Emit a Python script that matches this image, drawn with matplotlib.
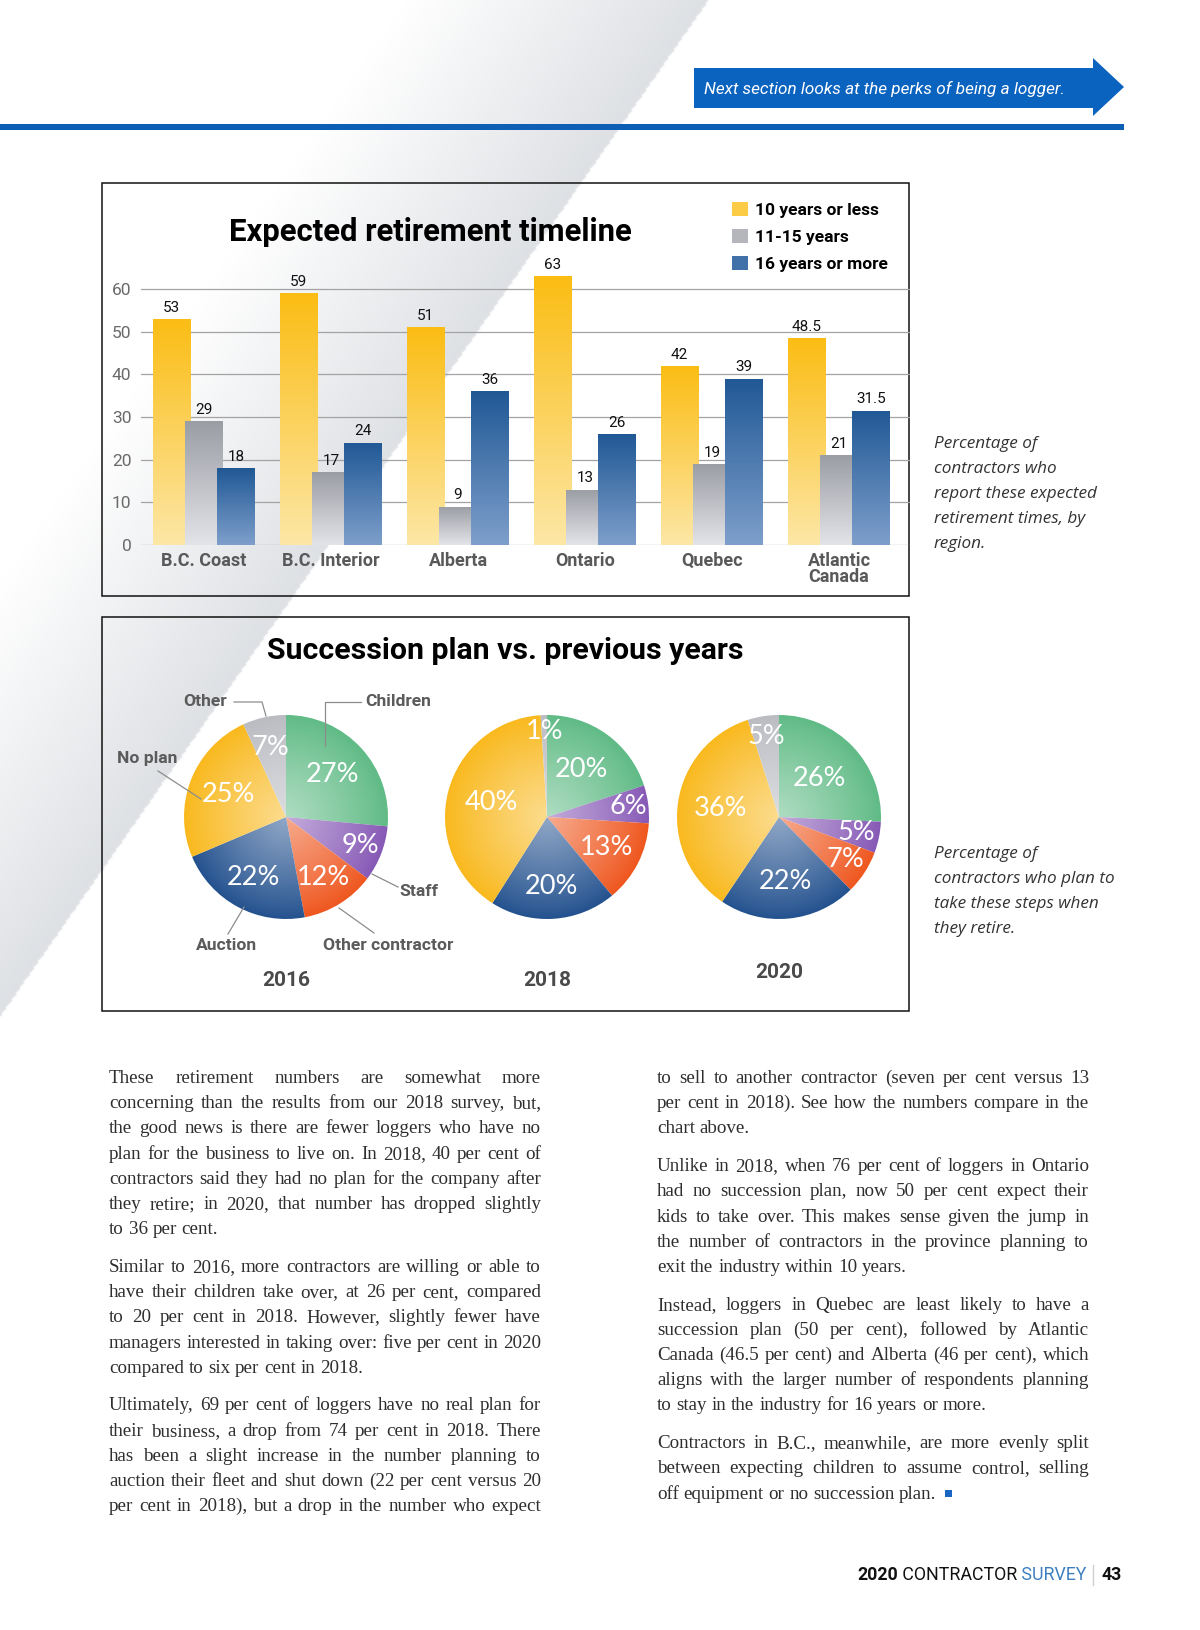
"""
Survey page: retirement-timeline bars, succession-plan pies and the two
justified text columns underneath. Saved as out.png at 1200x1630.
"""
import numpy as np
import matplotlib
matplotlib.use("Agg")
import matplotlib.pyplot as plt
import matplotlib.patches as mpatches
from matplotlib import font_manager as fm
from matplotlib.colors import LinearSegmentedColormap

W, H, DPI = 1200, 1630, 100

# ---- data ---------------------------------------------------------------
regions = ["B.C. Coast", "B.C. Interior", "Alberta", "Ontario", "Quebec", "Atlantic\nCanada"]
ten_or_less = [53, 59, 51, 63, 42, 48.5]
eleven_to_fifteen = [29, 17, 9, 13, 19, 21]
sixteen_or_more = [18, 24, 36, 26, 39, 31.5]
series_labels = ["10 years or less", "11-15 years", "16 years or more"]

plan_labels = ["Children", "Staff", "Other contractor", "Auction", "No plan", "Other"]
plan_2016 = [27, 9, 12, 22, 25, 7]
plan_2018 = [20, 6, 13, 20, 40, 1]
plan_2020 = [26, 5, 7, 22, 36, 5]
years = ["2016", "2018", "2020"]

left_col = [
    (["These retirement numbers are somewhat more",
      "concerning than the results from our 2018 survey, but,",
      "the good news is there are fewer loggers who have no",
      "plan for the business to live on. In 2018, 40 per cent of",
      "contractors said they had no plan for the company after",
      "they retire; in 2020, that number has dropped slightly",
      "to 36 per cent."], False),
    (["Similar to 2016, more contractors are willing or able to",
      "have their children take over, at 26 per cent, compared",
      "to 20 per cent in 2018. However, slightly fewer have",
      "managers interested in taking over: five per cent in 2020",
      "compared to six per cent in 2018."], False),
    (["Ultimately, 69 per cent of loggers have no real plan for",
      "their business, a drop from 74 per cent in 2018. There",
      "has been a slight increase in the number planning to",
      "auction their fleet and shut down (22 per cent versus 20",
      "per cent in 2018), but a drop in the number who expect"], True),
]
right_col = [
    (["to sell to another contractor (seven per cent versus 13",
      "per cent in 2018). See how the numbers compare in the",
      "chart above."], False),
    (["Unlike in 2018, when 76 per cent of loggers in Ontario",
      "had no succession plan, now 50 per cent expect their",
      "kids to take over. This makes sense given the jump in",
      "the number of contractors in the province planning to",
      "exit the industry within 10 years."], False),
    (["Instead, loggers in Quebec are least likely to have a",
      "succession plan (50 per cent), followed by Atlantic",
      "Canada (46.5 per cent) and Alberta (46 per cent), which",
      "aligns with the larger number of respondents planning",
      "to stay in the industry for 16 years or more."], False),
    (["Contractors in B.C., meanwhile, are more evenly split",
      "between expecting children to assume control, selling",
      "off equipment or no succession plan."], False),
]


def pick(*names):
    for n in names:
        try:
            fm.findfont(fm.FontProperties(family=n), fallback_to_default=False)
            return n
        except ValueError:
            continue
    return "DejaVu Sans"


SANS = pick("Roboto", "Lato", "DejaVu Sans")
NARROW = pick("Liberation Sans Narrow", "Roboto")
ITAL = pick("Open Sans", "Lato", "DejaVu Sans")
PCT = pick("Lato", "Open Sans", "DejaVu Sans")
SERIF = pick("Liberation Serif", "DejaVu Serif")

fig = plt.figure(figsize=(W / DPI, H / DPI), dpi=DPI)
renderer = fig.canvas.get_renderer()


def frac(x0, y0, x1, y1):
    return [x0 / W, 1 - y1 / H, (x1 - x0) / W, (y1 - y0) / H]


def width(s, **kw):
    return renderer.get_text_width_height_descent(s, fm.FontProperties(**kw), ismath=False)[0]


def fit(s, target, size, **kw):
    return size * target / width(s, size=size, **kw)


# ---- page layer ---------------------------------------------------------
page = fig.add_axes([0, 0, 1, 1])
page.axis("off")

yy, xx = np.mgrid[0:H:2, 0:W:2].astype(float)
d = (707 - 0.697 * yy) - xx
t = np.where(d < 0, 0, np.clip(1 - d / 300, 0, 1))
grey = np.array([0.87, 0.88, 0.895])
page.imshow(1 - t[..., None] * (1 - grey), extent=(0, W, H, 0), aspect="auto",
            interpolation="bilinear", zorder=0)
page.set_xlim(0, W)
page.set_ylim(H, 0)

page.add_patch(mpatches.Polygon([(694, 68), (1093, 68), (1093, 58), (1124, 87),
                                 (1093, 116), (1093, 108), (694, 108)],
                                closed=True, fc="#0b63c0", ec="none", zorder=2))
page.add_patch(mpatches.Rectangle((0, 124), 1124, 6, fc="#0d5fb5", ec="none", zorder=2))
banner = "Next section looks at the perks of being a logger."
page.text(704, 89, banner, color="white", va="center", ha="left", family=NARROW,
          style="italic", size=fit(banner, 360, 12, family=NARROW, style="italic"), zorder=3)

for (x0, y0, x1, y1) in [(102, 183, 909, 596), (102, 617, 909, 1011)]:
    page.add_patch(mpatches.Rectangle((x0, y0), x1 - x0, y1 - y0, fill=False,
                                      ec="#111111", lw=1.1, zorder=3))

title1 = "Expected retirement timeline"
page.text(430, 232, title1, ha="center", va="center", family=SANS, weight="bold",
          size=fit(title1, 406, 19, family=SANS, weight="bold"))
title2 = "Succession plan vs. previous years"
page.text(505, 651, title2, ha="center", va="center", family=SANS, weight="bold",
          size=fit(title2, 478, 19, family=SANS, weight="bold"))

notes = [(444, ["Percentage of", "contractors who", "report these expected",
                "retirement times, by", "region."]),
         (854, ["Percentage of", "contractors who plan to", "take these steps when",
                "they retire."])]
note_size = fit("report these expected", 163, 12, family=ITAL, style="italic")
for y0, lines in notes:
    for i, ln in enumerate(lines):
        page.text(934, y0 + 25 * i, ln, style="italic", family=ITAL, size=note_size,
                  color="#333333", va="center", ha="left")

# ---- bar chart ----------------------------------------------------------
px_per = (545 - 289) / 60
top_val = 70
axb = fig.add_axes(frac(141, 545 - top_val * px_per, 910, 545))
axb.patch.set_alpha(0)
x = np.arange(len(regions))
series = [ten_or_less, eleven_to_fifteen, sixteen_or_more]
ramps = [("#fde7a6", "#fbbd14"), ("#e3e4e8", "#9b9da5"), ("#7e9fcb", "#205895")]
offsets = [-0.254, 0.0, 0.254]
bw = 0.297
grad = np.linspace(0, 1, 256).reshape(-1, 1)
for k, (vals, (lo, hi), off) in enumerate(zip(series, ramps, offsets)):
    cmap = LinearSegmentedColormap.from_list(f"ramp{k}", [lo, hi])
    bars = axb.bar(x + off, vals, bw, color=cmap(0.65), lw=0, zorder=2 + k,
                   label=series_labels[k])
    for rect in bars:
        im = axb.imshow(grad, extent=(rect.get_x(), rect.get_x() + rect.get_width(),
                                      0, rect.get_height()),
                        origin="lower", aspect="auto", cmap=cmap,
                        interpolation="bilinear", zorder=2 + k + 0.5)
        im.set_clip_path(rect)
    axb.bar_label(bars, labels=[f"{v:g}" for v in vals], padding=3, fontsize=11,
                  family=SANS, color="#111111", zorder=10)

axb.set_xlim(-0.496, 5.559)
axb.set_ylim(0, top_val)
axb.set_yticks(range(0, 61, 10))
axb.set_xticks(x, regions)
axb.grid(axis="y", color="#a3a3a3", lw=0.9)
axb.set_axisbelow(True)
for s in axb.spines.values():
    s.set_visible(False)
axb.tick_params(length=0)
axb.tick_params(axis="y", pad=7, labelsize=12.5, labelcolor="#6a6a6a")
axb.tick_params(axis="x", pad=5, labelsize=13, labelcolor="#595959")
for lab in axb.get_xticklabels():
    lab.set_fontweight("bold")
    lab.set_family(SANS)
    lab.set_linespacing(0.85)
for lab in axb.get_yticklabels():
    lab.set_family(SANS)

axb.legend(loc="upper left", bbox_to_anchor=(732 / W, 1 - 202 / H),
           bbox_transform=fig.transFigure, frameon=False,
           prop=dict(family=SANS, weight="bold", size=12.5),
           handlelength=0.9, handleheight=0.9, handletextpad=0.45,
           labelspacing=0.62, borderpad=0, borderaxespad=0)

# ---- pies ---------------------------------------------------------------
pie_colors = ["#60bb86", "#8759b6", "#ef571f", "#24528f", "#f9b91e", "#babcc2"]
pie_sets = [plan_2016, plan_2018, plan_2020]
centres = [(286, 817), (547, 817), (779, 817)]
year_y = [981, 981, 973]
R = 102
label_dist = [[0.62, 0.78, 0.70, 0.67, 0.60, 0.70],
              [0.58, 0.80, 0.65, 0.68, 0.56, 0.84],
              [0.55, 0.77, 0.77, 0.64, 0.58, 0.80]]
pct_size = fit("27%", 53, 17, family=PCT)

gy, gx = np.mgrid[-1:1:200j, -1:1:200j]
shine = np.ones((200, 200, 4))
shine[..., 3] = np.clip(0.5 * (1 - np.hypot(gx, gy)) ** 0.9, 0, 1)

for vals, (cx, cy), dists, yr, ty in zip(pie_sets, centres, label_dist, years, year_y):
    axp = fig.add_axes(frac(cx - R, cy - R, cx + R, cy + R))
    wedges, _ = axp.pie(vals, colors=pie_colors, startangle=90, counterclock=False,
                        radius=1, wedgeprops=dict(lw=0))
    im = axp.imshow(shine, extent=(-1, 1, -1, 1), interpolation="bilinear", zorder=2)
    im.set_clip_path(mpatches.Circle((0, 0), 1, transform=axp.transData))
    for w, v, dist in zip(wedges, vals, dists):
        a = np.deg2rad((w.theta1 + w.theta2) / 2)
        axp.text(dist * np.cos(a), dist * np.sin(a), f"{v}%", ha="center", va="center",
                 color="white", size=pct_size, family=PCT, zorder=5)
    axp.set_xlim(-1, 1)
    axp.set_ylim(-1, 1)
    axp.set_aspect("equal")
    axp.axis("off")
    page.text(cx, ty, yr, ha="center", va="center", family=SANS, weight="bold",
              size=15, color="#4a4a4a")

# callouts for the 2016 pie sit on top of the wedges
over = fig.add_axes([0, 0, 1, 1])
over.set_xlim(0, W)
over.set_ylim(H, 0)
over.axis("off")
callouts = [("Other", (205, 702), [(234, 702), (262, 702), (266, 716)]),
            ("Children", (398, 702), [(361, 702), (325, 702), (325, 746)]),
            ("No plan", (147, 759), [(158, 771), (201, 799)]),
            ("Staff", (419, 891), [(398, 887), (372, 874)]),
            ("Auction", (227, 946), [(228, 934), (244, 907)]),
            ("Other contractor", (388, 946), [(374, 933), (339, 908)])]
for name, (tx, ty), pts in callouts:
    px, py = zip(*pts)
    over.plot(px, py, color="#8c8c8c", lw=0.9)
    over.text(tx, ty, name, ha="center", va="center", family=SANS, weight="bold",
              size=12.6, color="#5b5b5b")

# ---- body text, justified ----------------------------------------------
col_w = 432
all_just = [ln for col in (left_col, right_col) for lines, last in col
            for i, ln in enumerate(lines) if i < len(lines) - 1 or last]
base = 14


def natural(ln, size):
    words = ln.split(" ")
    sp = width("x x", family=SERIF, size=size) - width("xx", family=SERIF, size=size)
    return sum(width(w, family=SERIF, size=size) for w in words) + sp * (len(words) - 1)


body_size = base * (col_w - 2) / max(natural(ln, base) for ln in all_just)
space = width("x x", family=SERIF, size=body_size) - width("xx", family=SERIF, size=body_size)

end_x = end_y = 0
for col, x0 in [(left_col, 109), (right_col, 657)]:
    y = 1083
    for lines, last in col:
        for i, ln in enumerate(lines):
            words = ln.split(" ")
            ws = [width(w, family=SERIF, size=body_size) for w in words]
            justify = (i < len(lines) - 1 or last) and len(words) > 1
            gap = (col_w - sum(ws)) / (len(words) - 1) if justify else space
            cur = x0
            for w, wd in zip(words, ws):
                page.text(cur, y, w, ha="left", va="baseline", family=SERIF,
                          size=body_size, color="#2e2e2e")
                cur += wd + gap
            end_x, end_y = cur - gap, y
            y += 25.2
        y += 12.5

page.add_patch(mpatches.Rectangle((end_x + 9, end_y - 9), 7, 7, fc="#1a66c2", ec="none"))

# ---- footer -------------------------------------------------------------
cur = 857
for s, wt, col in [("2020", "bold", "#111111"), (" CONTRACTOR", "normal", "#111111"),
                   (" SURVEY", "normal", "#3d7ebf")]:
    page.text(cur, 1580, s, ha="left", va="baseline", family=SANS, weight=wt,
              size=12.8, color=col)
    cur += width(s, family=SANS, weight=wt, size=12.8)
page.plot([cur + 7, cur + 7], [1565, 1585], color="#cfcfcf", lw=1)
page.text(cur + 15, 1580, "43", ha="left", va="baseline", family=SANS, weight="bold",
          size=12.8, color="#111111")

fig.savefig("out.png", dpi=DPI)
